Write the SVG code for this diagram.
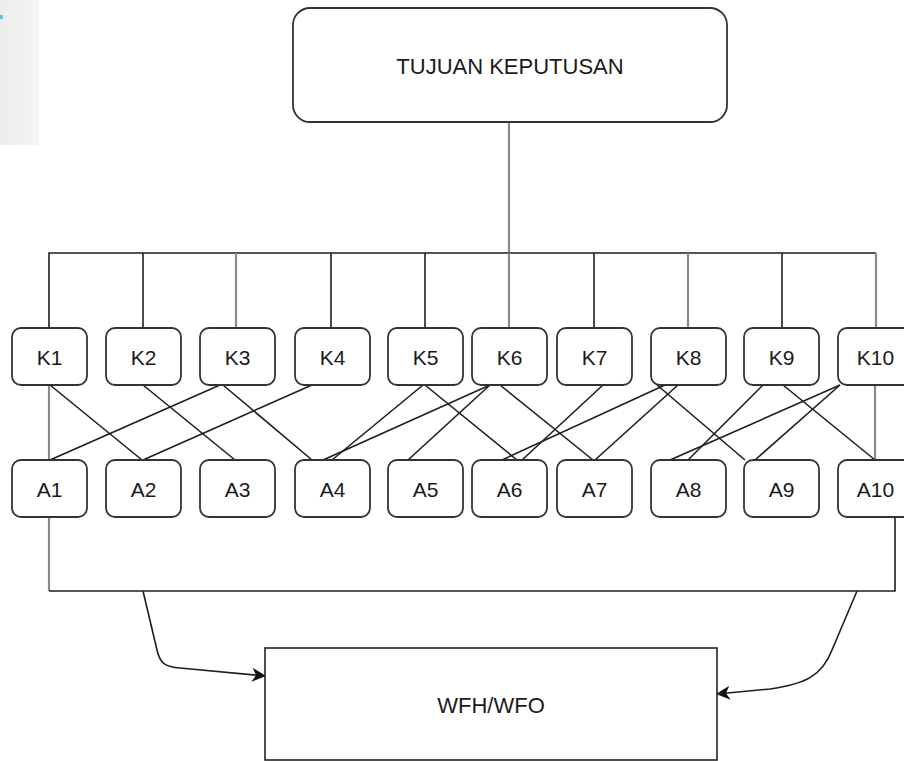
<svg xmlns="http://www.w3.org/2000/svg" width="904" height="761" viewBox="0 0 904 761">
<defs>
<linearGradient id="bg" x1="0" y1="0" x2="1" y2="0">
<stop offset="0" stop-color="#ececec"/>
<stop offset="1" stop-color="#f5f5f5"/>
</linearGradient>
<marker id="arr" viewBox="0 0 14 14" refX="13" refY="7" markerWidth="14" markerHeight="14" markerUnits="userSpaceOnUse" orient="auto">
<path d="M0,0 L14,7 L0,14 L4,7 Z" fill="#111"/>
</marker>
<style>
.box{fill:#fff;stroke:#333;stroke-width:1.8}
.lbl{font-family:"Liberation Sans",Arial,sans-serif;font-size:21px;fill:#1a1a1a;text-anchor:middle;dominant-baseline:central}
.big{font-size:22px}
.blk{fill:none;stroke:#1e1e1e;stroke-width:1.6}
.gry{fill:none;stroke:#8a8a8a;stroke-width:2.2}
</style>
</defs>
<rect width="904" height="761" fill="#fff"/>
<rect x="0" y="0" width="39" height="145" fill="url(#bg)"/>
<circle cx="1" cy="17" r="2.2" fill="#4cc9e0"/>

<g id="connectors">
<!-- top to bus -->
<path class="gry" d="M509,122 V253"/>
<path class="blk" d="M49,328 V253 H876"/>
<path class="blk" d="M143,253 V328"/>
<path class="blk" d="M331,253 V328"/>
<path class="blk" d="M425,253 V328"/>
<path class="blk" d="M594,253 V328"/>
<path class="blk" d="M782,253 V328"/>
<path class="gry" d="M236,253 V328"/>
<path class="gry" d="M509,253 V328"/>
<path class="gry" d="M688,253 V328"/>
<path class="gry" d="M876,253 V328"/>
<!-- K to A -->
<path class="gry" d="M49,385 V460"/>
<path class="gry" d="M875,385 V460"/>
<path class="blk" d="M50,385 L142,460"/>
<path class="blk" d="M220,385 L50,460"/>
<path class="blk" d="M143,385 L235,460"/>
<path class="blk" d="M312,385 L143,460"/>
<path class="blk" d="M223,385 L312,460"/>
<path class="blk" d="M423,385 L332,460"/>
<path class="blk" d="M490,385 L323,460"/>
<path class="blk" d="M425,385 L517,460"/>
<path class="blk" d="M490,385 L408,460"/>
<path class="blk" d="M500,385 L593,460"/>
<path class="blk" d="M603,385 L522,460"/>
<path class="blk" d="M665,385 L502,460"/>
<path class="blk" d="M678,385 L595,460"/>
<path class="blk" d="M657,385 L745,460"/>
<path class="blk" d="M763,385 L688,460"/>
<path class="blk" d="M783,385 L875,460"/>
<path class="blk" d="M840,385 L670,460"/>
<path class="blk" d="M840,385 L755,460"/>
<!-- A to bottom bus -->
<path class="gry" d="M49,517 V591"/>
<path class="blk" d="M49,591 H895 V517"/>
<!-- arrows -->
<path class="blk" d="M143,591 L157,650 C160,664 166,667 180,668 L265,676" marker-end="url(#arr)"/>
<path class="blk" d="M857,591 L832,650 C822,676 805,684 770,689 L717,694" marker-end="url(#arr)"/>
</g>

<g id="goal"><rect class="box" x="293" y="8" width="434" height="114" rx="17"/><text class="lbl big" x="510" y="66">TUJUAN KEPUTUSAN</text></g>

<g id="K1"><rect class="box" x="12" y="328" width="75" height="57" rx="9"/><text class="lbl" x="49.5" y="357">K1</text></g>
<g id="K2"><rect class="box" x="106" y="328" width="75" height="57" rx="9"/><text class="lbl" x="143.5" y="357">K2</text></g>
<g id="K3"><rect class="box" x="200" y="328" width="75" height="57" rx="9"/><text class="lbl" x="237.5" y="357">K3</text></g>
<g id="K4"><rect class="box" x="295" y="328" width="75" height="57" rx="9"/><text class="lbl" x="332.5" y="357">K4</text></g>
<g id="K5"><rect class="box" x="388" y="328" width="75" height="57" rx="9"/><text class="lbl" x="425.5" y="357">K5</text></g>
<g id="K6"><rect class="box" x="472" y="328" width="75" height="57" rx="9"/><text class="lbl" x="509.5" y="357">K6</text></g>
<g id="K7"><rect class="box" x="557" y="328" width="75" height="57" rx="9"/><text class="lbl" x="594.5" y="357">K7</text></g>
<g id="K8"><rect class="box" x="651" y="328" width="75" height="57" rx="9"/><text class="lbl" x="688.5" y="357">K8</text></g>
<g id="K9"><rect class="box" x="744" y="328" width="75" height="57" rx="9"/><text class="lbl" x="781.5" y="357">K9</text></g>
<g id="K10"><rect class="box" x="838" y="328" width="75" height="57" rx="9"/><text class="lbl" x="875.5" y="357">K10</text></g>

<g id="A1"><rect class="box" x="12" y="460" width="75" height="57" rx="9"/><text class="lbl" x="49.5" y="489">A1</text></g>
<g id="A2"><rect class="box" x="106" y="460" width="75" height="57" rx="9"/><text class="lbl" x="143.5" y="489">A2</text></g>
<g id="A3"><rect class="box" x="200" y="460" width="75" height="57" rx="9"/><text class="lbl" x="237.5" y="489">A3</text></g>
<g id="A4"><rect class="box" x="295" y="460" width="75" height="57" rx="9"/><text class="lbl" x="332.5" y="489">A4</text></g>
<g id="A5"><rect class="box" x="388" y="460" width="75" height="57" rx="9"/><text class="lbl" x="425.5" y="489">A5</text></g>
<g id="A6"><rect class="box" x="472" y="460" width="75" height="57" rx="9"/><text class="lbl" x="509.5" y="489">A6</text></g>
<g id="A7"><rect class="box" x="557" y="460" width="75" height="57" rx="9"/><text class="lbl" x="594.5" y="489">A7</text></g>
<g id="A8"><rect class="box" x="651" y="460" width="75" height="57" rx="9"/><text class="lbl" x="688.5" y="489">A8</text></g>
<g id="A9"><rect class="box" x="744" y="460" width="75" height="57" rx="9"/><text class="lbl" x="781.5" y="489">A9</text></g>
<g id="A10"><rect class="box" x="838" y="460" width="75" height="57" rx="9"/><text class="lbl" x="875.5" y="489">A10</text></g>

<g id="result"><rect class="box" x="265" y="648" width="452" height="112" fill="#fff" style="stroke-width:1.6;stroke:#222"/><text class="lbl big" x="491" y="705">WFH/WFO</text></g>
</svg>
